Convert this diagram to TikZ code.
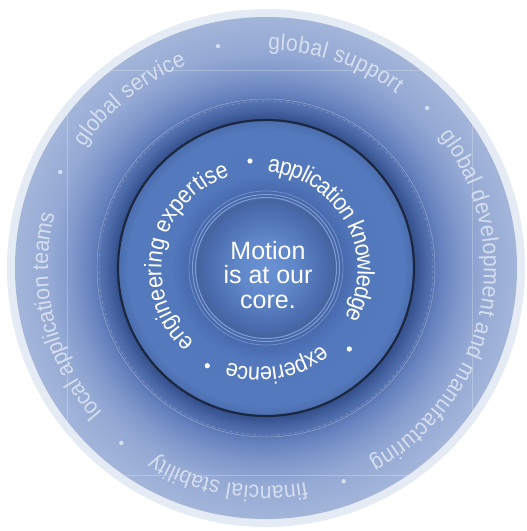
\documentclass[tikz,border=0pt]{standalone}
\usepackage{fontspec}
\setmainfont{Liberation Sans}
\newfontfamily\outerringfont[FakeStretch=0.92]{Liberation Sans}
\newfontfamily\innerringfont[FakeStretch=0.9]{Liberation Sans}
\usetikzlibrary{decorations.text}
\definecolor{rimcol}{HTML}{E5EBF5}
\definecolor{og1}{HTML}{2E4A85}
\definecolor{og2}{HTML}{36528F}
\definecolor{og3}{HTML}{4A67A6}
\definecolor{og4}{HTML}{6682BE}
\definecolor{og5}{HTML}{8098CB}
\definecolor{og6}{HTML}{93A8D3}
\definecolor{og7}{HTML}{A3B5D9}
\definecolor{ig1}{HTML}{6A92D4}
\definecolor{ig2}{HTML}{5F86C8}
\definecolor{ig3}{HTML}{4A6BAD}
\definecolor{ig4}{HTML}{45649F}
\definecolor{ig5}{HTML}{4A6DB1}
\definecolor{ig6}{HTML}{5378BB}
\definecolor{ig7}{HTML}{5479BC}
\definecolor{ig8}{HTML}{4A6DAE}
\definecolor{ringcol}{HTML}{7E9CD6}
\definecolor{edgecol}{HTML}{1C2740}
\definecolor{outtxt}{HTML}{D5DEEF}
\pgfdeclareradialshading{outerglow}{\pgfpoint{0bp}{0bp}}{%
color(0bp)=(og1); color(13.9bp)=(og1); color(14.94bp)=(og2); color(15.94bp)=(og3);
color(17.43bp)=(og4); color(19.42bp)=(og5); color(21.41bp)=(og6); color(25bp)=(og7); color(50bp)=(og7)}
\pgfdeclareradialshading{innerglow}{\pgfpoint{0bp}{0bp}}{%
color(0bp)=(ig1); color(5.07bp)=(ig2); color(10.14bp)=(ig3); color(11.49bp)=(ig4);
color(13.51bp)=(ig5); color(16.05bp)=(ig6); color(23.3bp)=(ig7); color(25bp)=(ig8); color(50bp)=(ig8)}
\newcommand{\outerfnt}{\outerringfont\fontsize{23}{27}\selectfont}
\newcommand{\innerfnt}{\innerringfont\fontsize{24}{28}\selectfont}
\tikzset{
  outertext/.style={decorate, decoration={text along path, text={|\outerfnt|#1},
      text color=outtxt, text align={fit to path}, raise=-10pt}},
  innertext/.style={decorate, decoration={text along path, text={|\innerfnt|#1},
      text color=white, text align={fit to path}, raise=-12pt}},
  outerdot/.style={fill=outtxt},
  innerdot/.style={fill=white},
  ringline/.style={draw=ringcol, line width=1pt},
  faintline/.style={draw=white, draw opacity=0.25, line width=0.6pt},
}
\begin{document}
\begin{tikzpicture}[x=1pt,y=1pt]
\useasboundingbox (-266,-263) rectangle (261,268);
\fill[white] (-266,-263) rectangle (261,268);
% outer rim and disc
\fill[rimcol] (0,0) circle[radius=259];
\shade[shading=outerglow] (0,0) circle[radius=251];
% faint square lines
\begin{scope}
  \clip (0,0) circle[radius=251];
  \draw[faintline] (-199,198) rectangle (206,-207);
\end{scope}
% thin circles in dark band
\draw[draw=white, draw opacity=0.35, line width=0.5pt] (0,0) circle[radius=169];
\draw[draw=white, draw opacity=0.25, line width=0.5pt, dashed] (0,0) circle[radius=167];
% inner disc
\shade[shading=innerglow] (0,0) circle[radius=148];
\draw[edgecol, line width=2.2pt] (0,0) circle[radius=148];
% rings around the core
\draw[ringline, line width=0.8pt, draw opacity=0.7] (0,0) circle[radius=77];
\draw[ringline] (0,0) circle[radius=73.5];
\draw[ringline] (0,0) circle[radius=70.5];
% core text
\node[align=center, font=\fontsize{25}{24.3}\selectfont, text=white, inner sep=0pt] (core) at (2,-7) {Motion\\is at our\\core.};
% outer ring texts (path at r=228, baseline at r=218)
\path[outertext={global service}] (146.4:228) arc[start angle=146.4, end angle=111.4, radius=228];
\path[outertext={global support}] (89.4:228) arc[start angle=89.4, end angle=53.2, radius=228];
\path[outertext={global development and manufacturing}] (37.3:228) arc[start angle=37.3, end angle=-61.7, radius=228];
\path[outertext={financial stability}] (-79.4:228) arc[start angle=-79.4, end angle=-121, radius=228];
\path[outertext={local application teams}] (221.4:228) arc[start angle=221.4, end angle=165.8, radius=228];
% outer dots
\foreach \a in {102.2,44.8,-70,-129.6,155} \fill[outerdot] (\a:227) circle[radius=2.2];
% inner ring texts (ring centred slightly left; path r=110, baseline r=98)
\begin{scope}[shift={(-6.5,-1.5)}]
\path[innertext={engineering expertise}] (228:110) arc[start angle=228, end angle=108, radius=110];
\path[innertext={application knowledge}] (85:110) arc[start angle=85, end angle=-29, radius=110];
\path[innertext={experience}] (-51:110) arc[start angle=-51, end angle=-108.5, radius=110];
\end{scope}
% inner dots
\fill[innerdot] (-16,107) circle[radius=2.6];
\fill[innerdot] (83.3,-81) circle[radius=2.6];
\fill[innerdot] (-58.7,-97.7) circle[radius=2.6];
\end{tikzpicture}
\end{document}
